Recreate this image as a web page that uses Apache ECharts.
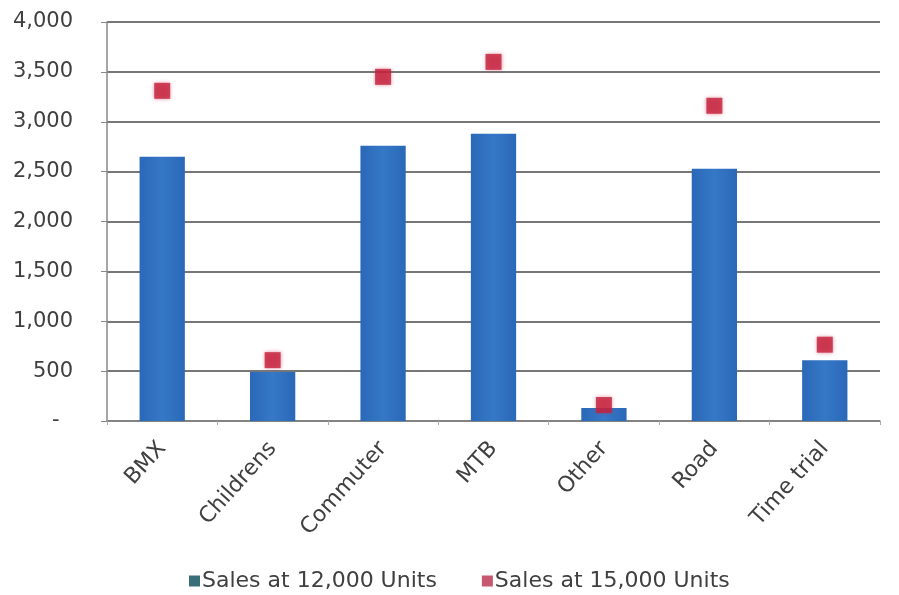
<!DOCTYPE html>
<html>
<head>
<meta charset="utf-8">
<script src="https://cdn.jsdelivr.net/npm/echarts@6/dist/echarts.min.js"></script>
<style>
  html, body { margin: 0; padding: 0; background: #fff; }
  #chart { width: 899px; height: 595px; }
</style>
</head>
<body>
<div id="chart"></div>
<script>
// Bike category sales under two volume scenarios
const categories = ['BMX', 'Childrens', 'Commuter', 'MTB', 'Other', 'Road', 'Time trial'];
const sales12k = [2650, 490, 2760, 2880, 130, 2530, 610];
const sales15k = [3310, 610, 3450, 3600, 160, 3160, 765];
const yTicks = [0, 500, 1000, 1500, 2000, 2500, 3000, 3500, 4000];

const font = 'DejaVu Sans, Verdana, sans-serif';

const chart = echarts.init(document.getElementById('chart'));
chart.setOption({
  backgroundColor: '#ffffff',
  animation: false,
  grid: { left: 107, right: 19, top: 22, bottom: 174 },
  legend: {
    top: 565,
    left: 184,
    itemWidth: 11,
    itemHeight: 11,
    itemGap: 45,
    textStyle: { fontFamily: font, fontSize: 22, color: '#404040', padding: [0, 0, 0, -3] },
    data: [
      { name: 'Sales at 12,000 Units', icon: 'rect', itemStyle: { color: '#3a6f78' } },
      { name: 'Sales at 15,000 Units', icon: 'rect', itemStyle: { color: '#b8304c' } }
    ]
  },
  xAxis: {
    type: 'category',
    data: categories,
    axisLine: { lineStyle: { color: '#888', width: 1.5 } },
    axisTick: { show: true, length: 4, lineStyle: { color: '#aaa' } },
    axisLabel: {
      rotate: 48,
      margin: 24,
      fontFamily: font,
      fontSize: 22,
      color: '#404040'
    },
    splitLine: { show: false }
  },
  yAxis: {
    type: 'value',
    min: yTicks[0],
    max: yTicks[yTicks.length - 1],
    interval: yTicks[1] - yTicks[0],
    axisLine: { show: true, lineStyle: { color: '#888', width: 1.5 } },
    axisTick: { show: true, length: 6, lineStyle: { color: '#888' } },
    axisLabel: {
      margin: 34,
      fontFamily: font,
      fontSize: 21,
      color: '#404040',
      formatter: v => (v === 0 ? '-  ' : v.toLocaleString('en-US'))
    },
    splitLine: { show: true, lineStyle: { color: '#4a4a4a', width: 1.5 } }
  },
  series: [
    {
      name: 'Sales at 12,000 Units',
      type: 'bar',
      data: sales12k,
      barWidth: '41%',
      itemStyle: {
        color: new echarts.graphic.LinearGradient(0, 0, 1, 0, [
          { offset: 0, color: '#2a68b8' },
          { offset: 0.5, color: '#3578c6' },
          { offset: 1, color: '#2a68b8' }
        ])
      }
    },
    {
      name: 'Sales at 15,000 Units',
      type: 'scatter',
      data: sales15k,
      symbol: 'rect',
      symbolSize: 16,
      z: 5,
      itemStyle: {
        color: '#c41e3a',
        shadowBlur: 4,
        shadowColor: 'rgba(200, 40, 70, 0.6)'
      }
    }
  ]
});
</script>
</body>
</html>
